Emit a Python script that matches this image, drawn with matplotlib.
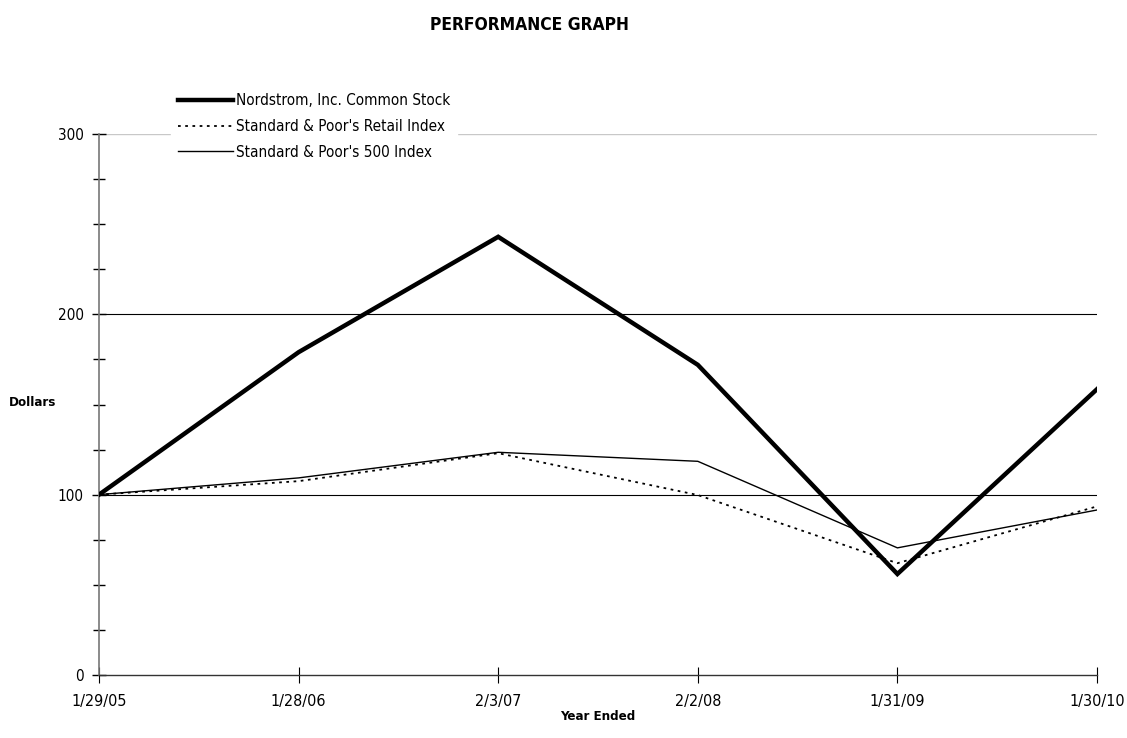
import matplotlib
matplotlib.use("Agg")
import matplotlib.pyplot as plt
from matplotlib.ticker import MultipleLocator

dates = ["1/29/05", "1/28/06", "2/3/07", "2/2/08", "1/31/09", "1/30/10"]
nordstrom = [100, 179, 243, 172, 56, 158.5]
retail = [100, 107.5, 123, 99.8, 62, 93.5]
sp500 = [100, 109.3, 123.5, 118.5, 70.5, 91.5]

plt.rcParams['font.family'] = ['DejaVu Sans']
plt.rcParams['font.stretch'] = 'condensed'

fig = plt.figure(figsize=(11.27, 7.38), dpi=100)
ax = fig.add_axes([99/1127, 1-675/738, (1097-99)/1127, (675-134)/738])

x = list(range(len(dates)))
ax.axhline(300, color='#c8c8c8', lw=1.0, zorder=1)
for v in (100, 200):
    ax.axhline(v, color='black', lw=0.8, zorder=1)

ax.plot(x, nordstrom, color='black', lw=3.2, label="Nordstrom, Inc. Common Stock", zorder=4, solid_joinstyle='miter')
ax.plot(x, retail, color='black', lw=1.3, linestyle=(0, (1.5, 2.5)), label="Standard & Poor's Retail Index", zorder=3)
ax.plot(x, sp500, color='black', lw=1.0, label="Standard & Poor's 500 Index", zorder=3)

ax.set_xlim(0, 5)
ax.set_ylim(0, 300)
ax.set_xticks(x)
ax.set_xticklabels(dates, fontsize=11.5)
ax.yaxis.set_major_locator(MultipleLocator(100))
ax.yaxis.set_minor_locator(MultipleLocator(25))
ax.tick_params(axis='y', which='major', direction='inout', length=10, width=1.0, labelsize=11, pad=6)
ax.tick_params(axis='y', which='minor', direction='inout', length=8, width=1.0)
ax.tick_params(axis='x', which='major', direction='inout', length=12, width=0.8, labelsize=11.5, pad=8)

for s in ('top', 'right'):
    ax.spines[s].set_visible(False)
ax.spines['left'].set_color('#777777')
ax.spines['left'].set_linewidth(1.2)
ax.spines['bottom'].set_color('#333333')
ax.spines['bottom'].set_linewidth(1.0)

fig.text(529/1127, 1-25/738, "PERFORMANCE GRAPH", ha='center', va='center', fontsize=12.5, fontweight='bold')
fig.text(33/1127, 1-402/738, "Dollars", ha='center', va='center', fontsize=9.5, fontweight='bold')
fig.text(598/1127, 1-716/738, "Year Ended", ha='center', va='center', fontsize=9.5, fontweight='bold')

leg = fig.legend(loc='upper left', bbox_to_anchor=(163/1127, 1-78/738), fontsize=11,
                 frameon=True, framealpha=1, edgecolor='white', fancybox=False,
                 handlelength=3.6, handletextpad=0.15, labelspacing=0.7, borderpad=0.5)
leg.set_zorder(10)

fig.savefig("out.png", dpi=100)
